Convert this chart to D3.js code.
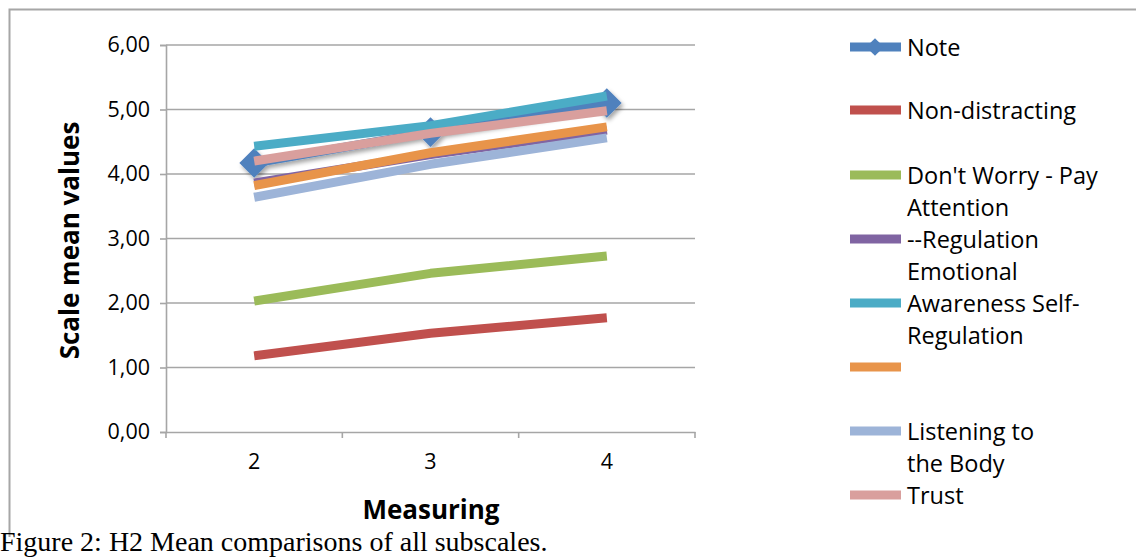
<!DOCTYPE html>
<html><head><meta charset="utf-8">
<script src="https://cdn.jsdelivr.net/npm/d3@7"></script>
<style>html,body{margin:0;padding:0;background:#fff;overflow:hidden}</style>
</head><body>
<svg id="chart" width="1136" height="558"></svg>
<script>
const categories = ["2", "3", "4"];
const yTicks = [0, 1, 2, 3, 4, 5, 6];
const seriesNames = ["Note", "Non-distracting", "Don't Worry - Pay Attention", "--Regulation Emotional", "Awareness Self-Regulation", "", "Listening to the Body", "Trust"];
const legendLines = [["Note"], ["Non-distracting"], ["Don't Worry - Pay", "Attention"], ["--Regulation", "Emotional"], ["Awareness Self-", "Regulation"], [""], ["Listening to", "the Body"], ["Trust"]];
const note = [4.17, 4.65, 5.10];
const nonDistracting = [1.18, 1.53, 1.77];
const dontWorry = [2.03, 2.46, 2.73];
const regulation = [3.86, 4.30, 4.68];
const awareness = [4.43, 4.75, 5.21];
const unnamed = [3.82, 4.33, 4.73];
const listening = [3.64, 4.15, 4.56];
const trust = [4.20, 4.63, 4.98];
const seriesValues = [note, nonDistracting, dontWorry, regulation, awareness, unnamed, listening, trust];
const colors = ["#4F81BD", "#C0504D", "#9BBB59", "#8064A2", "#4BACC6", "#E8944A", "#9DB4D8", "#D99F9D"];

(function () {
const FONT = "'Open Sans', Lato, sans-serif";
const svg = d3.select("#chart");
const defs = svg.append("defs");
const f = defs.append("filter").attr("id", "shadow").attr("x", "-20%").attr("y", "-50%").attr("width", "140%").attr("height", "200%");
f.append("feDropShadow").attr("dx", 2).attr("dy", 3).attr("stdDeviation", 2).attr("flood-color", "#000").attr("flood-opacity", 0.35);

// frame
svg.append("path").attr("d", "M9.5,537 L9.5,9.5 L1140,9.5").attr("fill", "none").attr("stroke", "#A6A6A6").attr("stroke-width", 2);

const pLeft = 166, pRight = 695, pTop = 45, pBottom = 432;
const x = d3.scaleBand().domain(categories).range([pLeft, pRight]).paddingInner(0).paddingOuter(0);
const y = d3.scaleLinear().domain([0, 6]).range([pBottom, pTop]);
const cx = c => x(c) + x.bandwidth() / 2;

// gridlines
svg.append("g").selectAll("line").data(yTicks.filter(t => t > 0)).join("line")
  .attr("x1", pLeft).attr("x2", pRight).attr("y1", d => y(d)).attr("y2", d => y(d))
  .attr("stroke", "#A6A6A6").attr("stroke-width", 1.6);

// y axis
const yAxis = svg.append("g").attr("transform", `translate(${pLeft},0)`)
  .call(d3.axisLeft(y).tickValues(yTicks).tickSize(6).tickPadding(10).tickFormat(d => d3.format(".2f")(d).replace(".", ",")));
yAxis.select(".domain").attr("stroke", "#A6A6A6").attr("stroke-width", 1.6);
yAxis.selectAll(".tick line").attr("stroke", "#A6A6A6").attr("stroke-width", 1.6);
yAxis.selectAll("text").attr("font-family", FONT).attr("font-size", 21.5).attr("fill", "#000");

// x axis
const xAxis = svg.append("g").attr("transform", `translate(0,${pBottom})`)
  .call(d3.axisBottom(x).tickSize(0).tickPadding(22));
xAxis.select(".domain").attr("stroke", "#A6A6A6").attr("stroke-width", 1.6);
xAxis.selectAll("text").attr("font-family", FONT).attr("font-size", 21.5).attr("fill", "#000");
svg.append("g").selectAll("line").data(categories.map(c => x(c)).concat([pRight])).join("line")
  .attr("x1", d => d).attr("x2", d => d).attr("y1", pBottom).attr("y2", pBottom + 6)
  .attr("stroke", "#A6A6A6").attr("stroke-width", 1.6);

// axis titles
svg.append("text").attr("transform", `translate(79,${(pTop + pBottom) / 2 + 2}) rotate(-90)`)
  .attr("text-anchor", "middle").attr("font-family", FONT).attr("font-weight", "bold").attr("font-size", 26).text("Scale mean values");
svg.append("text").attr("x", 431).attr("y", 519).attr("text-anchor", "middle")
  .attr("font-family", FONT).attr("font-weight", "bold").attr("font-size", 26).text("Measuring");

// lines
const line = d3.line().x((d, i) => cx(categories[i])).y(d => y(d));
const diamond = d3.symbol().type(d3.symbolDiamond2);
seriesValues.forEach((vals, si) => {
  const g = svg.append("g");
  if (si === 0) g.attr("filter", "url(#shadow)");
  g.append("path").datum(vals).attr("d", line).attr("fill", "none")
    .attr("stroke", colors[si]).attr("stroke-width", 9).attr("stroke-linejoin", "round").attr("stroke-linecap", "butt");
  if (si === 0) {
    g.selectAll("path.m").data(vals).join("path").attr("class", "m")
      .attr("transform", (d, i) => `translate(${cx(categories[i])},${y(d)})`)
      .attr("d", diamond.size(560)).attr("fill", colors[si]);
  }
});

// legend
const lg = svg.append("g");
const legendY = [47, 110, 175, 239, 303, 367, 431, 495];
seriesNames.forEach((name, i) => {
  const yy = legendY[i];
  lg.append("line").attr("x1", 850).attr("x2", 901).attr("y1", yy).attr("y2", yy)
    .attr("stroke", colors[i]).attr("stroke-width", 9);
  if (i === 0) {
    lg.append("path").attr("transform", `translate(875,${yy})`).attr("d", d3.symbol().type(d3.symbolDiamond2).size(200)()).attr("fill", colors[i]);
  }
  const t = lg.append("text").attr("x", 907).attr("y", yy + 8.5)
    .attr("font-family", FONT).attr("font-size", 23.5).attr("fill", "#000");
  legendLines[i].forEach((ln, k) => {
    t.append("tspan").attr("x", 907).attr("dy", k === 0 ? 0 : 32).text(ln);
  });
});

// caption
svg.append("text").attr("x", 0).attr("y", 551).attr("font-family", "'Liberation Serif', 'Times New Roman', serif")
  .attr("font-size", 28).attr("fill", "#000").text("Figure 2: H2 Mean comparisons of all subscales.");
})();
</script>
</body></html>
